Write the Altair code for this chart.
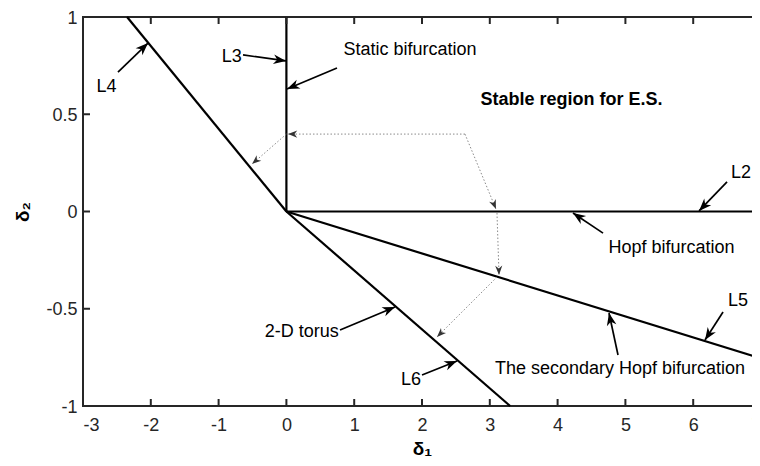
import math
import altair as alt
import pandas as pd

# ---------------- data ----------------
x_ticks = [-3, -2, -1, 0, 1, 2, 3, 4, 5, 6, 7]
y_ticks = [-1, -0.5, 0, 0.5, 1]

# boundary lines (from origin to the frame)
line_names = ["L3", "L2", "L4", "L6", "L5"]
line_x0 = [0, 0, 0, 0, 0]
line_y0 = [0, 0, 0, 0, 0]
line_x1 = [0, 7, -2.35, 3.3, 7]
line_y1 = [1, 0, 1, -1, -0.755]

# annotation texts (x centre, baseline y)
label_text = ["L4", "L3", "Static bifurcation", "L2", "Hopf bifurcation",
              "L5", "The secondary Hopf bifurcation", "L6", "2-D torus"]
label_x = [-2.653, -0.807, 1.823, 6.705, 5.680, 6.661, 4.920, 1.838, 0.226]
label_y = [0.616, 0.770, 0.805, 0.171, -0.213, -0.486, -0.835, -0.892, -0.644]

bold_text = ["Stable region for E.S."]
bold_x = [4.205]
bold_y = [0.545]

# solid annotation arrows (tail -> tip)
arrow_tail_x = [-2.484, -0.640, 0.746, 6.499, 4.670, 6.440, 4.891, 2.000, 0.791]
arrow_tail_y = [0.717, 0.805, 0.738, 0.152, -0.111, -0.517, -0.738, -0.841, -0.609]
arrow_tip_x = [-2.041, -0.006, 0.009, 6.086, 4.227, 6.174, 4.758, 2.516, 1.602]
arrow_tip_y = [0.866, 0.774, 0.630, 0.003, -0.008, -0.661, -0.522, -0.769, -0.491]

# dotted arrows (tail -> tip)
dot_tail_x = [2.634, 2.634, 0.000, 3.106, 3.106]
dot_tail_y = [0.398, 0.398, 0.398, -0.008, -0.337]
dot_tip_x = [0.024, 3.091, -0.507, 3.136, 2.221]
dot_tip_y = [0.398, 0.013, 0.244, -0.326, -0.645]

# ---------------- layout ----------------
W, H = 678, 389
XDOM, YDOM = [-3, 7], [-1, 1]
sx = W / (XDOM[1] - XDOM[0])
sy = H / (YDOM[1] - YDOM[0])
FONT = "Liberation Sans"
AXC = "#262626"
HEAD = "M0,0 L-2.2,-0.85 L-1.55,0 L-2.2,0.85 Z"


def angles(tx, ty, px, py):
    out = []
    for a, b, c, d in zip(tx, ty, px, py):
        dx = (c - a) * sx
        dy = -(d - b) * sy
        out.append(math.degrees(math.atan2(dy, dx)) % 360)
    return out


xs = alt.Scale(domain=XDOM, nice=False, zero=False)
ys = alt.Scale(domain=YDOM, nice=False, zero=False)

lines_df = pd.DataFrame({"name": line_names, "x": line_x0, "y": line_y0,
                         "x2": line_x1, "y2": line_y1})
lab_df = pd.DataFrame({"t": label_text, "x": label_x, "y": label_y})
bold_df = pd.DataFrame({"t": bold_text, "x": bold_x, "y": bold_y})
arr_df = pd.DataFrame({"x": arrow_tail_x, "y": arrow_tail_y,
                       "x2": arrow_tip_x, "y2": arrow_tip_y,
                       "a": angles(arrow_tail_x, arrow_tail_y, arrow_tip_x, arrow_tip_y)})
dot_df = pd.DataFrame({"x": dot_tail_x, "y": dot_tail_y,
                       "x2": dot_tip_x, "y2": dot_tip_y,
                       "a": angles(dot_tail_x, dot_tail_y, dot_tip_x, dot_tip_y)})
xt_df = pd.DataFrame({"x": x_ticks})
yt_df = pd.DataFrame({"y": y_ticks})

x_axis = alt.Axis(values=x_ticks, labelFontSize=18, labelFont=FONT, labelColor=AXC,
                  tickSize=0, ticks=False, domain=False, grid=False, labelPadding=10,
                  labelExpr="'' + datum.value",
                  title="δ₁", titleFont=FONT, titleFontSize=19, titleFontWeight="bold",
                  titleColor="black", titleX=W / 2, titleY=48, titleAlign="center",
                  titleBaseline="alphabetic")
y_axis = alt.Axis(values=y_ticks, labelFontSize=18, labelFont=FONT, labelColor=AXC,
                  tickSize=0, ticks=False, domain=False, grid=False, labelPadding=6,
                  labelOffset=1, labelExpr="'' + datum.value",
                  title="δ₂", titleFont=FONT, titleFontSize=19, titleFontWeight="bold",
                  titleColor="black", titleX=-55, titleY=H / 2, titleAngle=270,
                  titleAlign="center", titleBaseline="alphabetic")

lines = alt.Chart(lines_df).mark_rule(color="black", strokeWidth=2.2).encode(
    x=alt.X("x:Q", scale=xs, axis=x_axis),
    y=alt.Y("y:Q", scale=ys, axis=y_axis),
    x2="x2:Q", y2="y2:Q")

bt = alt.Chart(xt_df).mark_rule(color=AXC, strokeWidth=2).encode(
    x="x:Q", y=alt.value(H), y2=alt.value(H - 7))
tt = alt.Chart(xt_df).mark_rule(color=AXC, strokeWidth=2).encode(
    x="x:Q", y=alt.value(0), y2=alt.value(7))
lt = alt.Chart(yt_df).mark_rule(color=AXC, strokeWidth=2).encode(
    y="y:Q", x=alt.value(0), x2=alt.value(7))
rt = alt.Chart(yt_df).mark_rule(color=AXC, strokeWidth=2).encode(
    y="y:Q", x=alt.value(W), x2=alt.value(W - 7))

dots = alt.Chart(dot_df).mark_rule(color="#8a8a8a", strokeWidth=1, strokeDash=[1.5, 2]).encode(
    x="x:Q", y="y:Q", x2="x2:Q", y2="y2:Q")
dot_heads = alt.Chart(dot_df).mark_point(shape=HEAD, filled=True, size=70, color="#333333",
                                         opacity=1).encode(
    x="x2:Q", y="y2:Q", angle=alt.Angle("a:Q", scale=None))

arrows = alt.Chart(arr_df).mark_rule(color="black", strokeWidth=1.7).encode(
    x="x:Q", y="y:Q", x2="x2:Q", y2="y2:Q")
heads = alt.Chart(arr_df).mark_point(shape=HEAD, filled=True, size=130, color="black",
                                     opacity=1).encode(
    x="x2:Q", y="y2:Q", angle=alt.Angle("a:Q", scale=None))

labels = alt.Chart(lab_df).mark_text(font=FONT, fontSize=18, color="black",
                                     align="center", baseline="alphabetic").encode(
    x="x:Q", y="y:Q", text="t:N")
blabels = alt.Chart(bold_df).mark_text(font=FONT, fontSize=18, fontWeight="bold",
                                       color="black", align="center",
                                       baseline="alphabetic").encode(
    x="x:Q", y="y:Q", text="t:N")

chart = alt.layer(lines, bt, tt, lt, rt, dots, dot_heads, arrows, heads, labels, blabels).properties(
    width=W, height=H,
    autosize=alt.AutoSizeParams(type="none"),
    padding={"left": 75, "top": 9, "right": -9, "bottom": 52},
    background="white",
).configure_view(stroke=AXC, strokeWidth=2)

chart.save("out.html", embed_options={"renderer": "svg", "actions": False})
